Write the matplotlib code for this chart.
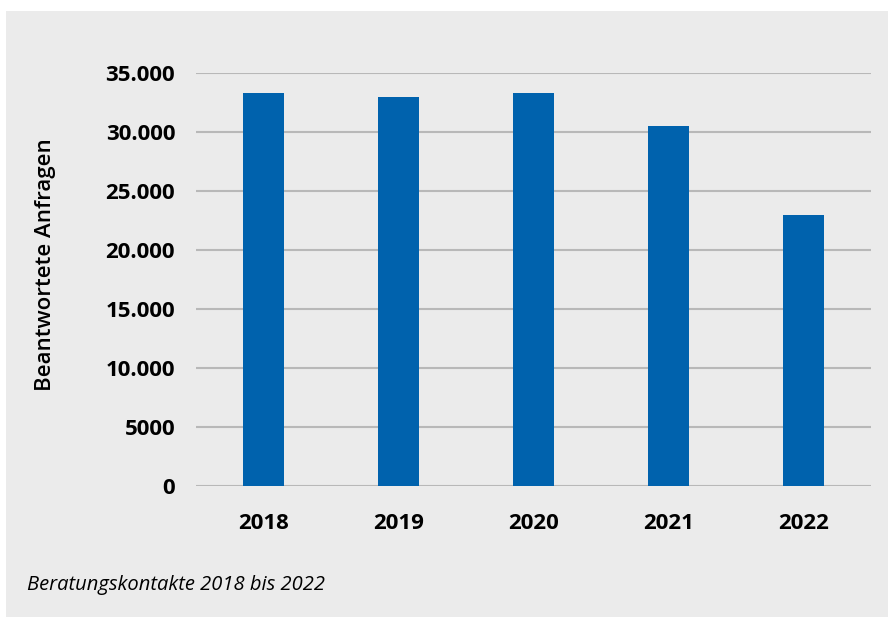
import matplotlib
matplotlib.use("Agg")
import matplotlib.pyplot as plt
from matplotlib.patches import Rectangle
from matplotlib.ticker import FuncFormatter

years = ["2018", "2019", "2020", "2021", "2022"]
anfragen = [33300, 33000, 33300, 30500, 23000]
y_ticks = [0, 5000, 10000, 15000, 20000, 25000, 30000, 35000]

BLUE = "#0062ad"
PANEL = "#ebebeb"
GRID = "#b8b8b8"

plt.rcParams["font.family"] = ["Open Sans", "DejaVu Sans"]

fig = plt.figure(figsize=(8.88, 6.17), dpi=100, facecolor="white")
# grey panel behind everything, with a thin white margin at top and left
fig.patches.append(Rectangle((6 / 888, 0), 1, 1 - 11 / 617, transform=fig.transFigure,
                             facecolor=PANEL, edgecolor="none", zorder=-10))

ax = fig.add_axes([196 / 888, 1 - 486.3 / 617, 675 / 888, (486.3 - 73.3) / 617])
ax.set_facecolor("none")
ax.bar(range(len(years)), anfragen, width=0.31, color=BLUE, zorder=3)
ax.set_xlim(-0.5, len(years) - 0.5)
ax.set_ylim(0, 35000)
ax.set_yticks(y_ticks)


def fmt(v, pos):
    v = int(v)
    # thousands dot only from five digits on
    return f"{v:,}".replace(",", ".") if v >= 10000 else str(v)


ax.yaxis.set_major_formatter(FuncFormatter(fmt))
ax.set_xticks(range(len(years)))
ax.set_xticklabels(years)
ax.grid(axis="y", color=GRID, linewidth=1.5, zorder=1)
for s in ax.spines.values():
    s.set_visible(False)
ax.tick_params(axis="both", length=0, labelsize=16, colors="black")
ax.tick_params(axis="y", pad=15)
ax.tick_params(axis="x", pad=19)
for lbl in ax.get_xticklabels() + ax.get_yticklabels():
    lbl.set_fontweight("bold")

fig.text(45 / 888, 1 - 265 / 617, "Beantwortete Anfragen", rotation=90,
         ha="center", va="center", fontsize=16, fontweight="semibold")
fig.text(27 / 888, 1 - 585 / 617, "Beratungskontakte 2018 bis 2022",
         ha="left", va="center", fontsize=14.5, style="italic")

fig.savefig("out.png", dpi=100, facecolor=fig.get_facecolor())
